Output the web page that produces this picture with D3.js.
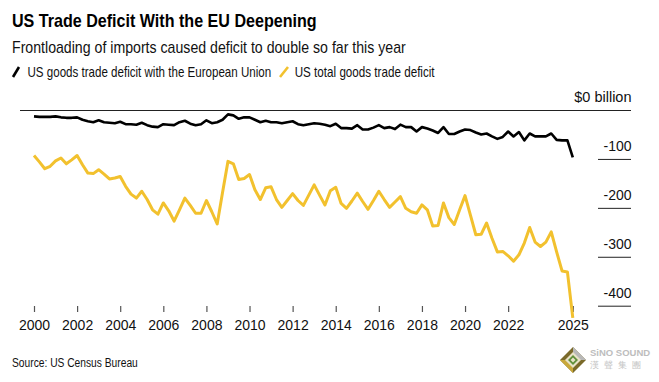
<!DOCTYPE html>
<html><head><meta charset="utf-8">
<script src="https://cdn.jsdelivr.net/npm/d3@7"></script>
<style>
body{margin:0;background:#fff}
svg{display:block}
text{font-family:"Liberation Sans",Arial,Helvetica,sans-serif}
</style>
</head><body>
<svg id="chart" width="659" height="382"></svg>
<script>
// ---- data (quarterly, $ billion) ----
const startYear = 2000;
const euDeficit = [
 -13,-14,-14,-14,-13,-15,-16,-16,-15,-20,
 -23,-25,-21,-25,-26,-27,-24,-29,-29,-30,
 -26,-31,-34,-35,-29,-30,-31,-25,-22,-28,
 -31,-29,-21,-27,-25,-20,-9,-11,-18,-15,
 -15,-20,-25,-22,-25,-25,-27,-25,-23,-29,
 -31,-29,-27,-28,-30,-33,-28,-37,-37,-38,
 -31,-40,-40,-36,-31,-37,-35,-39,-30,-35,
 -35,-44,-35,-38,-42,-47,-35,-49,-49,-44,
 -40,-41,-46,-50,-48,-54,-59,-55,-44,-54,
 -45,-62,-48,-54,-54,-54,-48,-61,-62,-62,
 -97
];
const totalDeficit = [
 -93,-106,-120,-115,-104,-98,-110,-102,-93,-112,
 -129,-130,-122,-131,-141,-139,-136,-156,-172,-180,
 -166,-183,-204,-213,-190,-206,-227,-204,-180,-195,
 -211,-211,-185,-208,-233,-168,-105,-110,-142,-140,
 -132,-163,-183,-159,-157,-183,-199,-185,-171,-185,
 -195,-174,-153,-174,-194,-165,-158,-191,-201,-186,
 -170,-187,-203,-185,-166,-183,-199,-188,-177,-201,
 -208,-211,-194,-204,-237,-236,-190,-220,-234,-204,
 -175,-215,-255,-254,-231,-262,-290,-289,-298,-309,
 -296,-272,-240,-270,-279,-270,-249,-290,-329,-331,
 -425
];
const yTicks = [0, -100, -200, -300, -400];
const yTickLabels = ["$0 billion", "-100", "-200", "-300", "-400"];
const xTicks = [2000, 2002, 2004, 2006, 2008, 2010, 2012, 2014, 2016, 2018, 2020, 2022, 2025];
const seriesNames = ["US goods trade deficit with the European Union", "US total goods trade deficit"];
const seriesColors = ["#000000", "#f2c12e"];
const titleText = "US Trade Deficit With the EU Deepening";
const subtitleText = "Frontloading of imports caused deficit to double so far this year";
const sourceText = "Source: US Census Bureau";

const times = euDeficit.map((_, i) => startYear + i / 4);

const svg = d3.select("#chart");

// scales
const x = d3.scaleLinear().domain([2000, 2025]).range([34, 572.8]);
const y = d3.scaleLinear().domain([0, -400]).range([110, 305.7]);

// place a text at (px,py) and scale it horizontally to a target width
function addFitted(parent, px, py, size, target, str, extra) {
  const el = parent.append("text").attr("x", 0).attr("y", 0)
    .attr("font-size", size).attr("fill", "#111").text(str);
  if (extra) extra(el);
  const w = el.node().getComputedTextLength();
  const sx = target / w;
  el.attr("transform", `translate(${px},${py}) scale(${sx.toFixed(4)},1)`);
  return el;
}

// header
addFitted(svg, 12, 27.3, 17.5, 305, titleText, e => e.attr("font-weight", "bold").attr("fill", "#000"));
addFitted(svg, 12, 52.6, 16, 394, subtitleText);

// legend
const lg = svg.append("g");
lg.append("line").attr("x1", 13).attr("y1", 77).attr("x2", 19).attr("y2", 67)
  .attr("stroke", seriesColors[0]).attr("stroke-width", 2.6);
addFitted(lg, 27.5, 76.8, 14, 244, seriesNames[0]);
lg.append("line").attr("x1", 280).attr("y1", 77).attr("x2", 288).attr("y2", 67)
  .attr("stroke", seriesColors[1]).attr("stroke-width", 2.6);
addFitted(lg, 294.7, 76.8, 14, 140, seriesNames[1]);

// y axis (right side labels above short gridlines)
const yAxis = d3.axisLeft(y).tickValues(yTicks).tickSize(33)
  .tickFormat((d, i) => yTickLabels[i]);
const yg = svg.append("g").attr("transform", "translate(631,0)").call(yAxis);
yg.select(".domain").remove();
yg.selectAll(".tick line").attr("stroke", "#222").attr("stroke-width", 1)
  .attr("x2", d => d === 0 ? 20 - 631 : -33);
yg.selectAll(".tick text").attr("x", 0.5).attr("dy", 0).attr("y", -8.5)
  .attr("text-anchor", "end").attr("font-size", 14).attr("fill", "#111")
  .attr("font-family", '"Liberation Sans",Arial,sans-serif');
yg.selectAll(".tick text").filter(d => d === 0).attr("font-size", 14.5);

// x axis
const xAxis = d3.axisBottom(x).tickValues(xTicks).tickFormat(d3.format("d"))
  .tickSize(6).tickPadding(8.5);
const xg = svg.append("g").attr("transform", "translate(0,306)").call(xAxis);
xg.select(".domain").remove();
xg.selectAll(".tick line").attr("stroke", "#555").attr("stroke-width", 1.2);
xg.selectAll(".tick text").attr("font-size", 14).attr("fill", "#111")
  .attr("font-family", '"Liberation Sans",Arial,sans-serif');

// lines
const line = d3.line().x((d, i) => x(times[i])).y(d => y(d));
svg.append("path").datum(totalDeficit).attr("d", line).attr("fill", "none")
  .attr("stroke", seriesColors[1]).attr("stroke-width", 3).attr("stroke-linejoin", "round");
svg.append("path").datum(euDeficit).attr("d", line).attr("fill", "none")
  .attr("stroke", seriesColors[0]).attr("stroke-width", 2.6).attr("stroke-linejoin", "round");

// source
addFitted(svg, 12, 367.3, 13.5, 126, sourceText);

// watermark logo
const logo = svg.append("g").attr("transform", "translate(573,360)");
logo.append("path").attr("d", "M0,-13 L13,0 L0,13 L-13,0 Z").attr("fill", "#7a6a2a");
logo.append("path").attr("d", "M0,-13 L13,0 L0,0 Z").attr("fill", "#b8b8b8");
logo.append("path").attr("d", "M0,13 L-13,0 L0,0 Z").attr("fill", "#c9a83a");
logo.append("path").attr("d", "M0,-8 L8,0 L0,8 L-8,0 Z").attr("fill", "#e8e2c8");
logo.append("path").attr("d", "M0,-5 L5,0 L0,5 L-5,0 Z").attr("fill", "#5f8f3a");
logo.append("path").attr("d", "M0,-2.5 L2.5,0 L0,2.5 L-2.5,0 Z").attr("fill", "#e8e2c8");
svg.append("text").attr("x", 590).attr("y", 356).attr("font-size", 9.5).attr("font-weight", "bold")
  .attr("fill", "#bdbdbd").text("SiNO SOUND");
svg.append("text").attr("x", 590).attr("y", 368).attr("font-size", 9)
  .attr("font-family", '"Noto Sans CJK TC",sans-serif').attr("letter-spacing", 5)
  .attr("fill", "#c4c4c4").text("漢聲集團");
</script>
</body></html>
